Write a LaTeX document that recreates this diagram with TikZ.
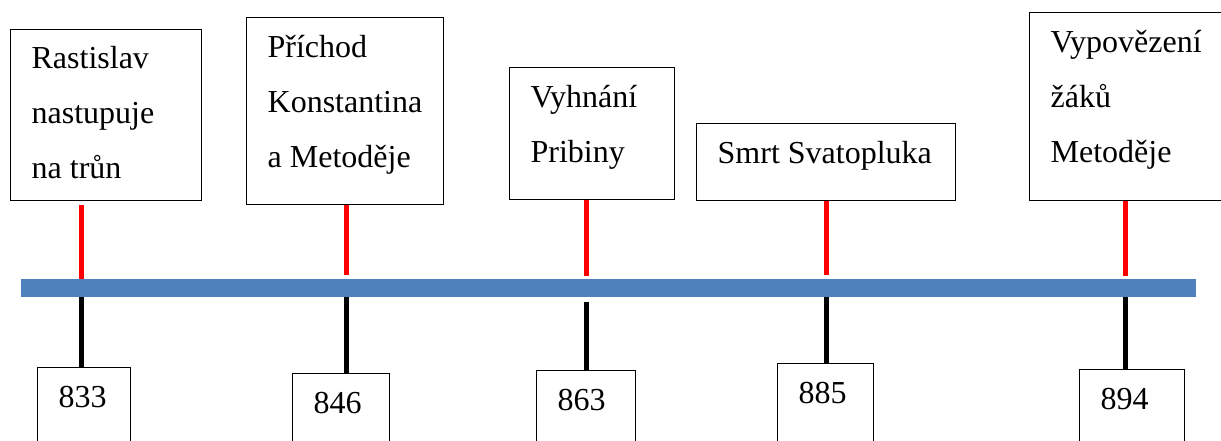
\documentclass[tikz,border=0pt]{standalone}
\usepackage{fontspec}
\setmainfont{Liberation Serif}
\definecolor{barblue}{HTML}{4F81BD}
\begin{document}
\begin{tikzpicture}[x=1pt,y=-1pt,
	box/.style={draw,line width=1.3pt,anchor=north west,inner xsep=21pt,inner ysep=0pt,align=flush left,text height=40pt,font=\fontsize{32}{55}\selectfont},
	up/.style={red,line width=5pt},
	down/.style={black,line width=5pt}]
	\useasboundingbox (0,0) rectangle (1221,441);
	\clip (0,0) rectangle (1221,441);
	% events above the line
	\node[box,text width=149pt,text height=39pt,text depth=132pt] (e1) at (10,29) {Rastislav\\nastupuje\\na trůn};
	\node[box,text width=155pt,text depth=147pt] (e2) at (246,17) {Příchod\\Konstantina\\a Metoděje};
	\node[box,text width=123pt,text depth=92pt] (e3) at (509,67) {Vyhnání\\Pribiny};
	\node[box,text width=217pt,text depth=37pt] (e4) at (696,123) {Smrt Svatopluka};
	\node[box,text width=170pt,text depth=148pt] (e5) at (1029,12) {Vypovězení\\žáků\\Metoděje};
	% the time line
	\node[fill=barblue,minimum width=1175pt,minimum height=18pt,inner sep=0pt] (bar) at (608.5,288) {};
	\coordinate (t1) at (81,288);
	\coordinate (t2) at (346,288);
	\coordinate (t3) at (586,288);
	\coordinate (t4) at (826,288);
	\coordinate (t5) at (1125,288);
	% years below the line
	\node[box,text width=51pt,text depth=60pt] (n1) at (37,367) {833};
	\node[box,text width=55pt,text depth=60pt] (n2) at (292,373) {846};
	\node[box,text width=57pt,text depth=60pt] (n3) at (536,370) {863};
	\node[box,text width=54pt,text depth=60pt] (n4) at (777,363) {885};
	\node[box,text width=63pt,text depth=60pt] (n5) at (1079,369) {894};
	\draw[up,shorten <=4pt] (t1 |- e1.south) -- (t1 |- bar.north);
	\draw[up,shorten >=4pt] (t2 |- e2.south) -- (t2 |- bar.north);
	\draw[up,shorten >=3pt] (t3 |- e3.south) -- (t3 |- bar.north);
	\draw[up,shorten >=4pt] (t4 |- e4.south) -- (t4 |- bar.north);
	\draw[up,shorten >=3pt] (t5 |- e5.south) -- (t5 |- bar.north);
	\draw[down] (t1 |- bar.south) -- (t1 |- n1.north);
	\draw[down] (t2 |- bar.south) -- (t2 |- n2.north);
	\draw[down,shorten <=5pt] (t3 |- bar.south) -- (t3 |- n3.north);
	\draw[down] (t4 |- bar.south) -- (t4 |- n4.north);
	\draw[down] (t5 |- bar.south) -- (t5 |- n5.north);
\end{tikzpicture}
\end{document}
